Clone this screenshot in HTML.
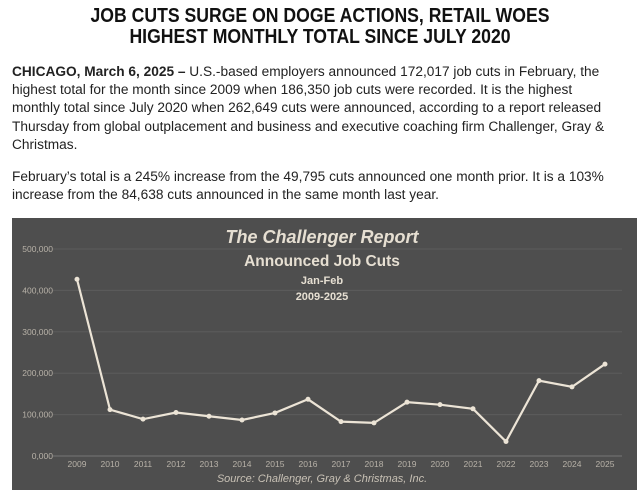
<!DOCTYPE html>
<html><head><meta charset="utf-8"><style>
body{margin:0;width:640px;height:499px;background:#fff;font-family:"Liberation Sans",sans-serif;overflow:hidden;position:relative}
h1{position:absolute;top:5px;left:0;width:640px;margin:0;text-align:center;font-size:20.5px;line-height:21px;font-weight:bold;color:#111;transform:scaleX(0.86);transform-origin:320px 0}
.p{position:absolute;left:12px;width:640px;font-size:14.2px;line-height:18.2px;color:#222;margin:0;transform:scaleX(0.965);transform-origin:0 0}
</style></head><body>
<h1>JOB CUTS SURGE ON DOGE ACTIONS, RETAIL WOES<br>HIGHEST MONTHLY TOTAL SINCE JULY 2020</h1>
<p class="p" style="top:63px"><b>CHICAGO, March 6, 2025 –</b> U.S.-based employers announced 172,017 job cuts in February, the<br>highest total for the month since 2009 when 186,350 job cuts were recorded. It is the highest<br>monthly total since July 2020 when 262,649 cuts were announced, according to a report released<br>Thursday from global outplacement and business and executive coaching firm Challenger, Gray &amp;<br>Christmas.</p>
<p class="p" style="top:168px">February’s total is a 245% increase from the 49,795 cuts announced one month prior. It is a 103%<br>increase from the 84,638 cuts announced in the same month last year.</p>
<svg id="chart" style="position:absolute;left:0;top:0" width="640" height="499"></svg>
<script>
const years=["2009","2010","2011","2012","2013","2014","2015","2016","2017","2018","2019","2020","2021","2022","2023","2024","2025"];
const cuts=[427000,112000,89000,105000,96000,87000,104000,137000,83000,80000,130000,124000,114000,35000,182000,167000,222000];
const yTicks=[0,100000,200000,300000,400000,500000];
const yTickLabels=["0,000","100,000","200,000","300,000","400,000","500,000"];
const svg=document.getElementById('chart');const NS="http://www.w3.org/2000/svg";
function el(t,a,txt){const e=document.createElementNS(NS,t);for(const k in a)e.setAttribute(k,a[k]);if(txt!=null)e.textContent=txt;svg.appendChild(e);return e;}
const xs=i=>77+i*(605-77)/(years.length-1);
const ys=v=>456-v*(456-249)/500000;
let e=el('rect',{x:12,y:218,width:625,height:272,fill:'#4e4e4e'});

yTicks.forEach((t,i)=>{
 let g=el('line',{x1:53,x2:622,y1:ys(t),y2:ys(t),stroke:i==0?'#777':'#5c5c5c','stroke-width':1});
 
 let l=el('text',{x:53,y:ys(t)+3,'text-anchor':'end','font-size':'8.5','fill':'#b8b2a8','font-family':'Liberation Sans'},yTickLabels[i]);
 
});
years.forEach((y,i)=>{let l=el('text',{x:xs(i),y:467,'text-anchor':'middle','font-size':'8.5','fill':'#b8b2a8','font-family':'Liberation Sans'},y);
 });
const t=[["The Challenger Report",243,18,'italic','bold'],["Announced Job Cuts",266,15.5,'normal','bold'],["Jan-Feb",284,11,'normal','bold'],["2009-2025",300,11,'normal','bold']];
t.forEach((a,i)=>{let l=el('text',{x:322,y:a[1],'text-anchor':'middle','font-size':a[2],'font-style':a[3],'font-weight':a[4],fill:'#e6dfd2','font-family':'Liberation Sans'},a[0]);
 });
let s=el('text',{x:322,y:482,'text-anchor':'middle','font-size':'11','font-style':'italic',fill:'#c8c1b5','font-family':'Liberation Sans'},"Source: Challenger, Gray & Christmas, Inc.");

let p=el('polyline',{points:cuts.map((v,i)=>xs(i)+','+ys(v)).join(' '),fill:'none',stroke:'#ece4d6','stroke-width':2.2});

cuts.forEach((v,i)=>{let c=el('circle',{cx:xs(i),cy:ys(v),r:2.5,fill:'#ece4d6'});
 });
</script>
</body></html>
